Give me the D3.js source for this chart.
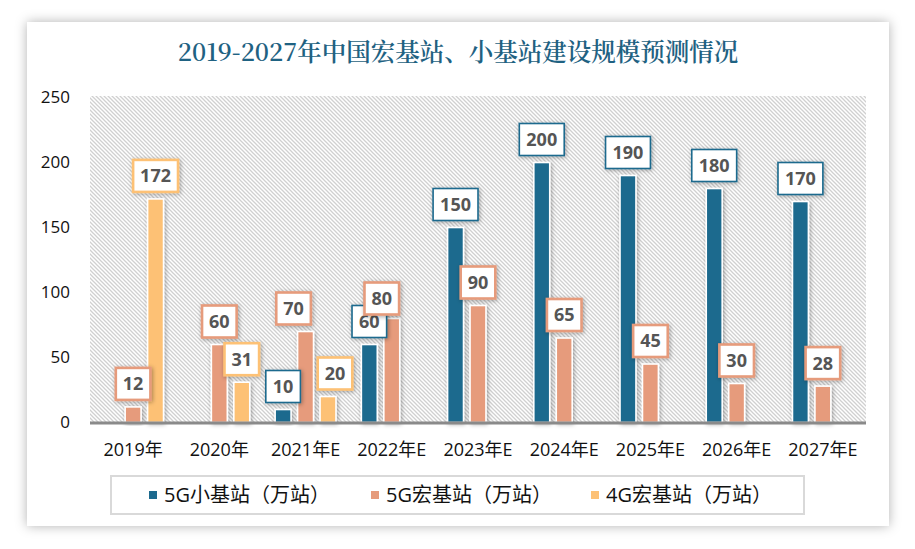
<!DOCTYPE html>
<html><head><meta charset="utf-8">
<script src="https://cdn.jsdelivr.net/npm/d3@7"></script>
<style>
html,body{margin:0;padding:0;background:#fff;}
svg{display:block;}
</style></head>
<body>
<svg id="chart" width="915" height="549"></svg>
<script>
// ---- data ----
const title = "2019-2027年中国宏基站、小基站建设规模预测情况";
const categories = ["2019年","2020年","2021年E","2022年E","2023年E","2024年E","2025年E","2026年E","2027年E"];
const seriesNames = ["5G小基站（万站）","5G宏基站（万站）","4G宏基站（万站）"];
const small5G = [null, null, 10, 60, 150, 200, 190, 180, 170];
const macro5G = [12, 60, 70, 80, 90, 65, 45, 30, 28];
const macro4G = [172, 31, 20, null, null, null, null, null, null];
const yTicks = [0, 50, 100, 150, 200, 250];
const colors = ["#1d6a8e", "#e69b7b", "#fdc175"];
// label nudges (layout only): [seriesIndex-categoryIndex] -> [dx, dy]
const labelNudge = {"1-2":[-12,0], "1-3":[-10,3], "2-2":[7,0]};

const seriesValues = [small5G, macro5G, macro4G];

const svg = d3.select("#chart");
const defs = svg.append("defs");

const fCard = defs.append("filter").attr("id","cardShadow").attr("x","-10%").attr("y","-10%").attr("width","120%").attr("height","120%");
fCard.append("feDropShadow").attr("dx",0).attr("dy",0).attr("stdDeviation",6).attr("flood-color","#000").attr("flood-opacity",0.3);
const fBar = defs.append("filter").attr("id","barShadow").attr("x","-50%").attr("y","-20%").attr("width","200%").attr("height","140%");
fBar.append("feDropShadow").attr("dx",1).attr("dy",1).attr("stdDeviation",2).attr("flood-color","#000").attr("flood-opacity",0.35);
const pat = defs.append("pattern").attr("id","hatch").attr("patternUnits","userSpaceOnUse").attr("width",4).attr("height",4);
pat.append("rect").attr("width",4).attr("height",4).attr("fill","#ffffff");
pat.append("path").attr("d","M-1,-1 L5,5 M3,-1 L5,1 M-1,3 L1,5").attr("stroke","#d0d0d0").attr("stroke-width",1.3);

// card
svg.append("rect").attr("x",27).attr("y",22).attr("width",862).attr("height",504)
  .attr("fill","#fff").attr("filter","url(#cardShadow)");

// title
svg.append("text").attr("x",458).attr("y",61).attr("text-anchor","middle")
  .attr("font-family","'Noto Serif CJK SC','Noto Sans CJK SC',serif")
  .attr("font-size",24.5).attr("font-weight",600).attr("fill","#1f6282")
  .text(title);

// scales
const plotL = 90, plotR = 866, plotT = 97.5, plotB = 422.5;
const x0 = d3.scaleBand().domain(categories).range([plotL, plotR]).padding(0);
const x1 = d3.scaleBand().domain(d3.range(seriesNames.length)).range([0, x0.bandwidth()])
  .paddingInner(0.29).paddingOuter(0.565);
const y = d3.scaleLinear().domain([0, 250]).range([plotB, plotT]);

svg.append("rect").attr("x",plotL).attr("y",plotT-1.5).attr("width",plotR-plotL).attr("height",plotB-plotT+1.5)
  .attr("fill","url(#hatch)");

// y labels
svg.append("g").selectAll("text").data(yTicks).join("text")
  .attr("x",70).attr("y",d=>y(d)).attr("dy","0.35em").attr("text-anchor","end")
  .attr("font-family","'Open Sans','Noto Sans CJK SC',sans-serif").attr("font-size",17).attr("fill","#111")
  .text(d=>d);

// bars
const barData = [];
seriesValues.forEach((arr, si) => arr.forEach((v, ci) => {
  if (v != null) barData.push({si, ci, v});
}));
svg.append("g").selectAll("rect").data(barData).join("rect")
  .attr("x", d => x0(categories[d.ci]) + x1(d.si))
  .attr("y", d => y(d.v))
  .attr("width", x1.bandwidth())
  .attr("height", d => plotB - y(d.v))
  .attr("fill", d => colors[d.si])
  .attr("stroke","#fff").attr("stroke-width",1.6)
  .attr("filter","url(#barShadow)");

// baseline
svg.append("line").attr("x1",plotL).attr("x2",plotR).attr("y1",plotB+0.5).attr("y2",plotB+0.5)
  .attr("stroke","#8a8a8a").attr("stroke-width",3);

// x labels
svg.append("g").selectAll("text").data(categories).join("text")
  .attr("x", d => x0(d) + x0.bandwidth()/2).attr("y",456).attr("text-anchor","middle")
  .attr("font-family","'Open Sans','Noto Sans CJK SC',sans-serif").attr("font-size",18).attr("fill","#111")
  .text(d=>d);

// value labels
const lg = svg.append("g");
barData.forEach(d => {
  const nudge = labelNudge[d.si + "-" + d.ci] || [0,0];
  const cx = x0(categories[d.ci]) + x1(d.si) + x1.bandwidth()/2 + nudge[0];
  const cy = y(d.v) - 23 + nudge[1];
  const g = lg.append("g");
  const r = g.append("rect").attr("fill","#fff").attr("stroke",colors[d.si])
    .attr("stroke-width", d.si === 0 ? 1.6 : 2.6).attr("filter","url(#barShadow)");
  const t = g.append("text").attr("x",cx).attr("y",cy).attr("dy","0.36em").attr("text-anchor","middle")
    .attr("font-family","'Open Sans','Noto Sans',sans-serif").attr("font-weight","bold")
    .attr("font-size",18).attr("fill","#555").text(d.v);
  const w = t.node().getComputedTextLength() + 14;
  r.attr("x", cx - w/2).attr("y", cy - 16).attr("width", w).attr("height", 32);
});

// legend
svg.append("rect").attr("x",111).attr("y",476).attr("width",693).attr("height",38)
  .attr("fill","#fff").attr("stroke","#d9d9d9").attr("stroke-width",2);
const legX = [149, 371, 591];
const leg = svg.append("g").selectAll("g").data(seriesNames).join("g")
  .attr("transform",(d,i)=>`translate(${legX[i]},495)`);
leg.append("rect").attr("x",0).attr("y",-4).attr("width",8).attr("height",8).attr("fill",(d,i)=>colors[i]);
leg.append("text").attr("x",15).attr("y",0).attr("dy","0.36em")
  .attr("font-family","'Open Sans','Noto Sans CJK SC',sans-serif").attr("font-size",20).attr("fill","#111")
  .text(d=>d);
</script>
</body></html>
